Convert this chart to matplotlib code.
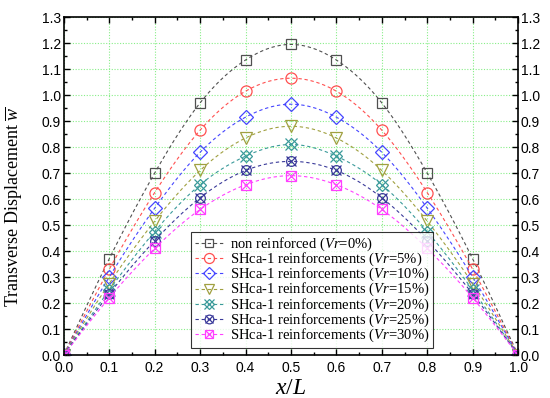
import numpy as np
import matplotlib.pyplot as plt
from matplotlib.legend_handler import HandlerTuple
from matplotlib.ticker import MultipleLocator

plt.rcParams['mathtext.fontset'] = 'custom'
plt.rcParams['mathtext.rm'] = 'Liberation Serif'
plt.rcParams['mathtext.it'] = 'Liberation Serif:italic'

x = [0.0, 0.1, 0.2, 0.3, 0.4, 0.5, 0.6, 0.7, 0.8, 0.9, 1.0]
w_0 = [0.0, 0.37, 0.70, 0.97, 1.135, 1.195, 1.135, 0.97, 0.70, 0.37, 0.0]
w_5 = [0.0, 0.33, 0.625, 0.865, 1.015, 1.065, 1.015, 0.865, 0.625, 0.33, 0.0]
w_10 = [0.0, 0.30, 0.565, 0.78, 0.915, 0.965, 0.915, 0.78, 0.565, 0.30, 0.0]
w_15 = [0.0, 0.275, 0.515, 0.71, 0.835, 0.88, 0.835, 0.71, 0.515, 0.275, 0.0]
w_20 = [0.0, 0.25, 0.475, 0.655, 0.765, 0.81, 0.765, 0.655, 0.475, 0.25, 0.0]
w_25 = [0.0, 0.235, 0.44, 0.605, 0.71, 0.745, 0.71, 0.605, 0.44, 0.235, 0.0]
w_30 = [0.0, 0.22, 0.41, 0.56, 0.655, 0.69, 0.655, 0.56, 0.41, 0.22, 0.0]

labels = ['non reinforced ($\\it{Vr}$=0%)',
          'SHca-1 reinforcements ($\\it{Vr}$=5%)',
          'SHca-1 reinforcements ($\\it{Vr}$=10%)',
          'SHca-1 reinforcements ($\\it{Vr}$=15%)',
          'SHca-1 reinforcements ($\\it{Vr}$=20%)',
          'SHca-1 reinforcements ($\\it{Vr}$=25%)',
          'SHca-1 reinforcements ($\\it{Vr}$=30%)']
series = [w_0, w_5, w_10, w_15, w_20, w_25, w_30]
colors = ['#505050', '#ff5050', '#4646ff', '#a0a040', '#3a9a9a', '#3a3a9a', '#ff40ff']
markers = [['s'], ['o'], ['D'], ['v'], ['x', 'D'], ['o', 'x'], ['s', 'x']]
sizes = [[7], [8], [7], [8], [8, 6], [7, 7], [7, 7]]


def spline(xs, ys, n=200):
    # natural cubic spline, only used to draw the smooth dashed line
    xs = np.asarray(xs, float)
    ys = np.asarray(ys, float)
    k = len(xs)
    h = np.diff(xs)
    A = np.zeros((k, k))
    b = np.zeros(k)
    A[0, 0] = A[-1, -1] = 1
    for i in range(1, k - 1):
        A[i, i - 1] = h[i - 1]
        A[i, i] = 2 * (h[i - 1] + h[i])
        A[i, i + 1] = h[i]
        b[i] = 6 * ((ys[i + 1] - ys[i]) / h[i] - (ys[i] - ys[i - 1]) / h[i - 1])
    M = np.linalg.solve(A, b)
    xx = np.linspace(xs[0], xs[-1], n)
    idx = np.clip(np.searchsorted(xs, xx) - 1, 0, k - 2)
    x0, x1 = xs[idx], xs[idx + 1]
    hh = x1 - x0
    t0, t1 = x1 - xx, xx - x0
    yy = (M[idx] * t0 ** 3 + M[idx + 1] * t1 ** 3) / (6 * hh) \
        + (ys[idx] / hh - M[idx] * hh / 6) * t0 + (ys[idx + 1] / hh - M[idx + 1] * hh / 6) * t1
    return xx, yy


fig = plt.figure(figsize=(5.5, 3.98), dpi=100)
ax = fig.add_axes([0.116, 0.108, 0.826, 0.849])

handles = []
for ys, c, mk, sz in zip(series, colors, markers, sizes):
    xx, yy = spline(x, ys)
    line, = ax.plot(xx, yy, '--', color=c, lw=0.8, dashes=(3, 2.5))
    parts = [line]
    for m, s in zip(mk, sz):
        p, = ax.plot(x, ys, linestyle='none', marker=m, ms=s, mfc='none',
                     mec=c, mew=0.9)
        parts.append(p)
    handles.append(tuple(parts))

ax.set_xlim(0, 1.0)
ax.set_ylim(0, 1.3)
ax.xaxis.set_major_locator(MultipleLocator(0.1))
ax.xaxis.set_minor_locator(MultipleLocator(0.05))
ax.yaxis.set_major_locator(MultipleLocator(0.1))
ax.yaxis.set_minor_locator(MultipleLocator(0.05))
ax.grid(True, which='major', color='#88ee88', ls=(0, (1, 1.5)), lw=0.8)
ax.tick_params(which='both', direction='in', top=True, right=True,
               labelright=True, labelsize=10)
ax.tick_params(axis='x', pad=4)
ax.tick_params(axis='y', pad=2)
ax.tick_params(which='major', length=4, width=1)
ax.tick_params(which='minor', length=2, width=1)
for t in ax.get_xticklabels() + ax.get_yticklabels():
    t.set_fontfamily('Liberation Sans')
for sp in ax.spines.values():
    sp.set_linewidth(1.2)

ax.set_xlabel('$\\it{x/L}$', fontsize=17)
ax.xaxis.set_label_coords(0.5, -0.06)
ax.set_ylabel('Transverse Displacement $\\overline{w}$', fontsize=13,
              family='Liberation Serif')
ax.yaxis.set_label_coords(-0.086, 0.44)

leg = ax.legend(handles, labels, loc='lower left', bbox_to_anchor=(0.28, 0.022),
                handler_map={tuple: HandlerTuple(ndivide=1, pad=0)},
                prop={'family': 'Liberation Serif', 'size': 10.5},
                frameon=True, fancybox=False, edgecolor='black',
                handlelength=2.0, handleheight=0.5, handletextpad=0.4,
                borderpad=0.25, labelspacing=-0.15, borderaxespad=0,
                markerscale=0.9)
leg.get_frame().set_linewidth(0.8)

fig.savefig('out.png', dpi=100)
